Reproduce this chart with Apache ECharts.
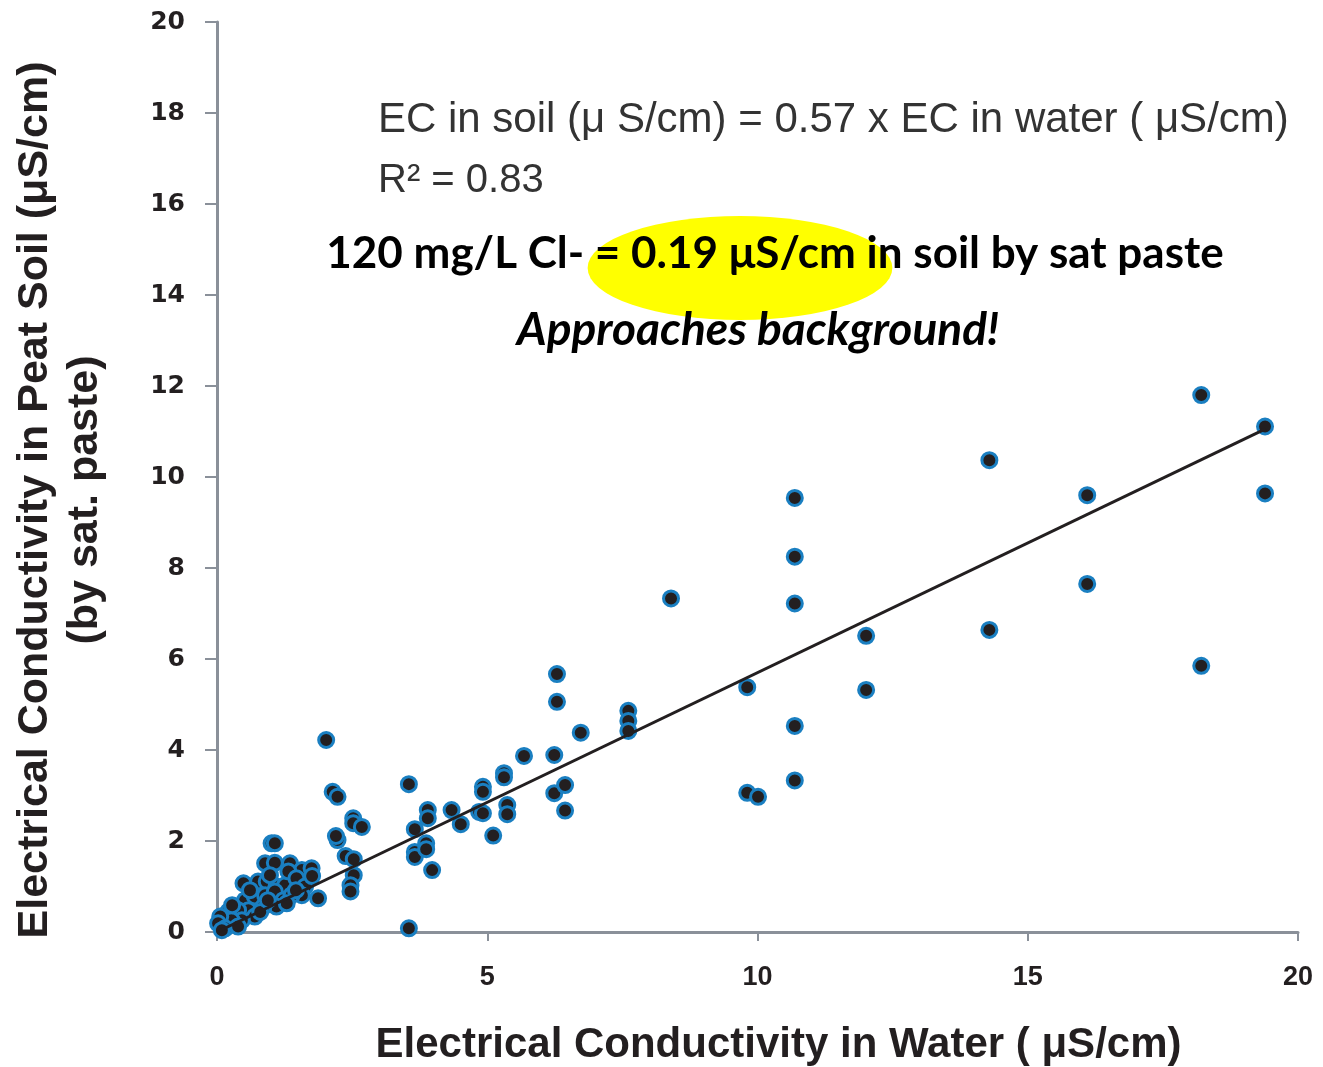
<!DOCTYPE html>
<html>
<head>
<meta charset="utf-8">
<title>EC soil vs water</title>
<script src="https://cdn.jsdelivr.net/npm/echarts@6/dist/echarts.min.js"></script>
<style>
    html, body { margin: 0; padding: 0; background: #fff; }
    #chart { width: 1323px; height: 1067px; }
</style>
</head>
<body>
<div id="chart"></div>
<script>
// EC in water (x) and EC in peat soil by sat. paste (y)
const waterEC = [
    // cluster near the origin
    1.01, 1.07, 0.89, 1.07, 1.35, 1.57, 1.75, 0.49, 0.76, 0.92, 1.10, 1.26, 1.32, 1.47, 1.63, 1.57, 1.87,
    0.52, 0.70, 0.89, 1.07, 1.23, 1.38, 1.10, 0.86, 0.58, 0.39, 0.21, 0.70, 0.46, 0.27, 0.06, 0.02, 0.15,
    0.39, 1.29, 0.98, 0.61, 0.28, 0.09, 0.80, 0.94, 1.46, 1.76,
    // 2 - 4.5
    2.02, 2.14, 2.23, 2.23, 2.20, 2.52, 2.52, 2.68, 2.38, 2.53, 2.53, 2.47, 2.47,
    3.55, 3.55, 3.66, 3.66, 3.66, 3.87, 3.87, 3.90, 3.90, 3.98, 4.34, 4.51,
    // 4.5 - 8
    4.92, 4.92, 4.85, 4.92, 5.11, 5.31, 5.31, 5.37, 5.37, 5.68, 6.29, 6.29, 6.24, 6.24, 6.44, 6.44, 6.73,
    7.61, 7.61, 7.61,
    // upper range
    8.40, 9.81, 9.81, 10.01, 10.69, 10.69, 10.69, 10.69, 10.69, 12.01, 12.01, 14.29, 14.29, 16.10, 16.10,
    18.21, 18.21, 19.39, 19.39
];
const soilEC = [
    1.95, 1.95, 1.51, 1.52, 1.51, 1.36, 1.40, 1.07, 1.11, 1.11, 1.00, 1.03, 1.33, 1.18, 1.00, 0.81, 0.74,
    0.70, 0.78, 0.81, 0.89, 0.70, 0.81, 0.56, 0.56, 0.48, 0.48, 0.45, 0.34, 0.26, 0.26, 0.34, 0.19, 0.08,
    0.12, 0.63, 1.25, 0.92, 0.59, 0.04, 0.44, 0.70, 0.92, 1.23,
    4.22, 3.08, 2.97, 2.02, 2.11, 2.50, 2.39, 2.31, 1.67, 1.60, 1.25, 1.03, 0.89,
    3.25, 0.08, 2.26, 1.76, 1.65, 1.95, 1.82, 2.68, 2.50, 1.36, 2.68, 2.37,
    3.19, 3.08, 2.64, 2.61, 2.12, 3.49, 3.40, 2.79, 2.59, 3.87, 5.67, 5.06, 3.89, 3.05, 3.23, 2.67, 4.38,
    4.86, 4.64, 4.42,
    7.33, 5.38, 3.06, 2.97, 9.54, 8.25, 7.22, 4.53, 3.33, 6.51, 5.32, 10.37, 6.64, 9.60, 7.65,
    11.80, 5.85, 11.11, 9.64
];

// linear fit through the origin, as printed on the chart
const trendSlope = 0.57;
const trendRange = [0, 19.4];
const xTicks = [0, 5, 10, 15, 20];
const yTicks = [0, 2, 4, 6, 8, 10, 12, 14, 16, 18, 20];

const points = waterEC.map((x, i) => [x, soilEC[i]]);
const trendLine = trendRange.map((x) => [x, trendSlope * x]);

const axisGray = "#8a9099";

let chart = echarts.init(document.getElementById("chart"));
let option = {
    animation: false,
    backgroundColor: "#fff",
    grid: {
        left: 217,
        right: 25,
        top: 22,
        bottom: 135,
        outerBoundsMode: "none", // keep the plot box where it is
    },
    xAxis: {
        type: "value",
        min: xTicks[0],
        max: xTicks[xTicks.length - 1],
        interval: 5,
        splitLine: { show: false },
        axisLine: { show: true, onZero: false, lineStyle: { color: axisGray, width: 3 } },
        axisTick: { show: true, length: 9, lineStyle: { color: axisGray, width: 2 } },
        axisLabel: {
            margin: 32,
            color: "#231f20",
            fontFamily: "Liberation Sans",
            fontWeight: "bold",
            fontSize: 27,
        },
        name: "Electrical Conductivity in Water ( \u03bcS/cm)",
        nameLocation: "middle",
        nameGap: 92,
        nameTextStyle: {
            color: "#231f20",
            fontFamily: "Liberation Sans",
            fontWeight: "bold",
            fontSize: 42,
            padding: [0, 0, 0, 42],
        },
    },
    yAxis: {
        type: "value",
        min: yTicks[0],
        max: yTicks[yTicks.length - 1],
        interval: 2,
        splitLine: { show: false },
        axisLine: { show: true, onZero: false, lineStyle: { color: axisGray, width: 3 } },
        axisTick: { show: true, length: 12, lineStyle: { color: axisGray, width: 2 } },
        axisLabel: {
            margin: 32,
            color: "#231f20",
            fontFamily: "DejaVu Sans",
            fontWeight: "bold",
            fontSize: 25,
        },
    },
    graphic: [
        {
            // y axis title, two lines
            type: "text",
            rotation: Math.PI / 2,
            x: 60,
            y: 500,
            style: {
                text: "Electrical Conductivity in Peat Soil (\u03bcS/cm)\n(by sat. paste)",
                fill: "#231f20",
                font: "bold 43px 'Liberation Sans'",
                align: "center",
                verticalAlign: "middle",
                lineHeight: 50,
            },
        },
        {
            // yellow highlight behind the value
            type: "circle",
            shape: { cx: 0, cy: 0, r: 52 },
            x: 740,
            y: 268,
            scaleX: 2.93,
            style: { fill: "#ffff00" },
            z: 10,
        },
        {
            type: "text",
            x: 378,
            y: 120,
            style: {
                text: "EC in soil (\u03bc S/cm) = 0.57 x EC in water ( \u03bcS/cm)",
                fill: "#333",
                font: "42px 'Liberation Sans'",
                verticalAlign: "middle",
            },
            z: 11,
        },
        {
            type: "text",
            x: 378,
            y: 181,
            style: {
                text: "R\u00b2 = 0.83",
                fill: "#333",
                font: "40px 'Liberation Sans'",
                verticalAlign: "middle",
            },
            z: 11,
        },
        {
            type: "text",
            x: 775,
            y: 254,
            style: {
                text: "120 mg/L Cl- = 0.19 \u03bcS/cm in soil by sat paste",
                fill: "#000",
                font: "bold 44px Lato",
                align: "center",
                verticalAlign: "middle",
            },
            z: 11,
        },
        {
            type: "text",
            x: 758,
            y: 330,
            style: {
                text: "Approaches background!",
                fill: "#000",
                font: "italic bold 46px Lato",
                align: "center",
                verticalAlign: "middle",
            },
            z: 11,
        },
    ],
    series: [
        {
            name: "samples",
            type: "scatter",
            data: points,
            symbol: "circle",
            symbolSize: 15,
            itemStyle: {
                color: "#231f20",
                borderColor: "#1a7fc1",
                borderWidth: 3,
                opacity: 1,
            },
            z: 2,
        },
        {
            name: "trend",
            type: "line",
            data: trendLine,
            symbol: "none",
            lineStyle: { color: "#231f20", width: 3 },
            z: 3,
        },
    ],
};
chart.setOption(option);
</script>
</body>
</html>
